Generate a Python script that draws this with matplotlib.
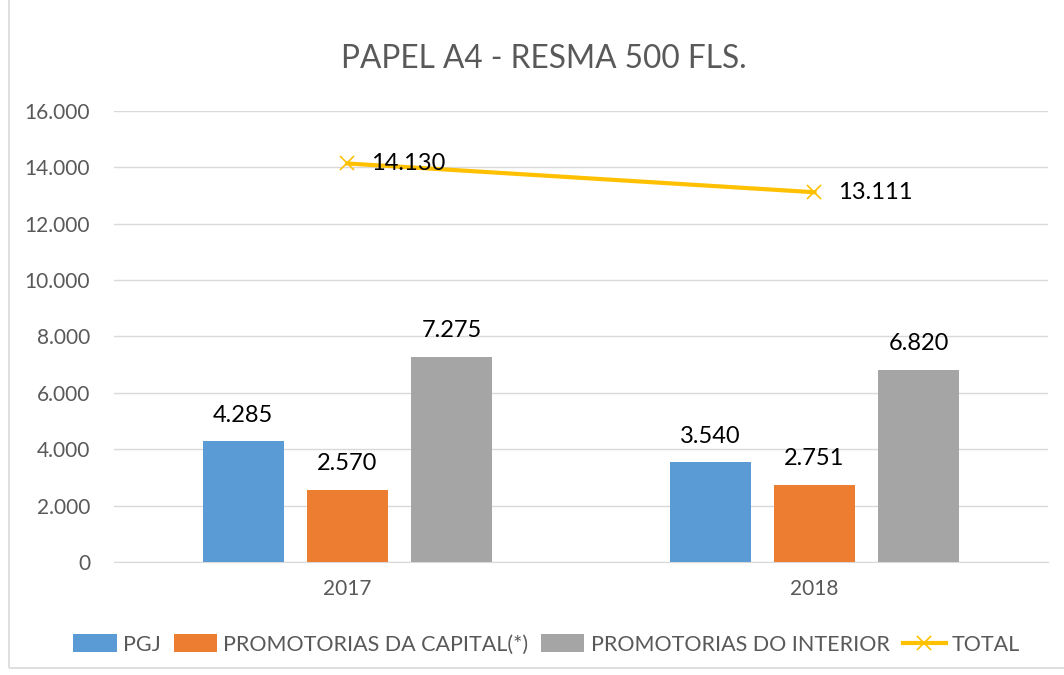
import numpy as np
import matplotlib
matplotlib.use('Agg')
import matplotlib.pyplot as plt
from matplotlib.patches import Rectangle

plt.rcParams['font.family'] = ['Lato', 'DejaVu Sans']

anos = ['2017', '2018']
pgj = [4285, 3540]
capital = [2570, 2751]
interior = [7275, 6820]
total = [14130, 13111]
nomes = ['PGJ', 'PROMOTORIAS DA CAPITAL(*)', 'PROMOTORIAS DO INTERIOR', 'TOTAL']
cores = ['#5b9bd5', '#ed7d31', '#a5a5a5', '#ffc000']

def fmt(v):
    return '{:,}'.format(v).replace(',', '.')

fig = plt.figure(figsize=(10.64, 6.75), dpi=100)
ax = fig.add_axes([0.107, 0.167, 0.878, 0.669])

x = np.arange(len(anos))
w = 0.173
off = 0.223
handles = []
for k, serie in enumerate([pgj, capital, interior]):
    barras = ax.bar(x + (k - 1) * off, serie, w, color=cores[k], label=nomes[k], zorder=3)
    handles.append(barras)
    for b, v in zip(barras, serie):
        ax.text(b.get_x() + b.get_width() / 2, v + 550, fmt(v), ha='center', va='bottom',
                fontsize=17, color='black', zorder=5)

linha, = ax.plot(x, total, color=cores[3], lw=3, marker='x', ms=10, mew=1.2, label=nomes[3], zorder=4)
handles.append(linha)
for xi, v in zip(x, total):
    ax.text(xi + 0.05, v, fmt(v), ha='left', va='center', fontsize=17, color='black', zorder=5)

ax.set_xlim(-0.5, 1.5)
ax.set_ylim(0, 16000)
ax.set_yticks(range(0, 16001, 2000))
ax.set_yticklabels([fmt(v) for v in range(0, 16001, 2000)])
ax.set_xticks(x)
ax.set_xticklabels(anos)
ax.tick_params(axis='both', length=0, labelsize=15, colors='#595959')
ax.tick_params(axis='y', pad=17)
ax.tick_params(axis='x', pad=12)
ax.grid(axis='y', color='#d9d9d9', lw=1, zorder=0)
for s in ['top', 'right', 'left']:
    ax.spines[s].set_visible(False)
ax.spines['bottom'].set_color('#d9d9d9')

fig.suptitle('PAPEL A4 - RESMA 500 FLS.', x=0.511, y=0.935, fontsize=22.8, color='#595959')

fig.legend(handles, nomes, loc='center', bbox_to_anchor=(0.514, 0.045), ncol=4, frameon=False,
           fontsize=15.5, labelcolor='#595959', handlelength=2.0, handleheight=0.9,
           columnspacing=0.6, handletextpad=0.3)

fig.patches.append(Rectangle((0.008, 0.01), 1.1, 1.1, transform=fig.transFigure,
                             fill=False, edgecolor='#d9d9d9', lw=1.2))

fig.savefig('out.png', dpi=100)
